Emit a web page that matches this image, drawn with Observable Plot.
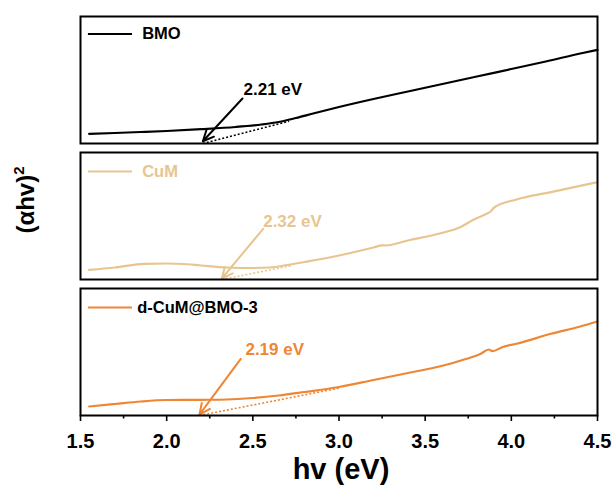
<!DOCTYPE html>
<html><head><meta charset="utf-8">
<script src="https://cdn.jsdelivr.net/npm/d3@7"></script>
<script src="https://cdn.jsdelivr.net/npm/@observablehq/plot@0.6"></script>
<style>body{margin:0;background:#fff;font-family:"Liberation Sans",Arial,sans-serif}</style>
</head><body><div id="chart"></div>
<script>
const samples = ["BMO", "CuM", "d-CuM@BMO-3"];
const colors = ["#000000", "#E8C590", "#EF8634"];

const bmoX = [1.55,1.7,1.85,2.0,2.2,2.4,2.55,2.65,2.75,2.85,3.0,3.2,3.4,3.6,3.8,4.0,4.2,4.4,4.5];
const bmoY = [9.7,10.5,11.5,12.5,14.3,16.5,19,21.5,25.5,30,36.5,44.5,52,59.5,67,74.5,82,90,93.7];

const cumX = [1.55,1.7,1.87,2.0,2.1,2.2,2.35,2.5,2.6,2.7,2.8,3.0,3.2,3.25,3.27,3.4,3.59,3.7,3.78,3.86,3.88,3.9,4.03,4.23,4.5];
const cumY = [9.7,12,15.7,16,15.5,14,12,11.5,12,14.5,17.5,24,32,34.2,34,39,46.3,52,59.7,66,68,72,80,87.3,97.3];

const dcumX = [1.55,1.7,1.85,2.0,2.2,2.35,2.5,2.65,2.8,3.0,3.2,3.4,3.55,3.65,3.74,3.82,3.87,3.89,3.95,4.03,4.23,4.4,4.5];
const dcumY = [9,11.5,14,15.5,15.7,16,17.5,20,23.5,28.5,35.5,42.5,47.7,52,56.7,61.5,66,64.3,68.5,71.7,81.7,89,94];

const gapValues = [2.21, 2.32, 2.19];
const gapLabels = ["2.21 eV", "2.32 eV", "2.19 eV"];
const tangentEndX = [2.71, 2.73, 3.01];
const tangentEndY = [22.3, 14, 27.7];
const arrowTailX = [2.44, 2.56, 2.43];
const arrowTailY = [45, 50.7, 56.7];
const arrowHeadY = [2.3, 1.0, 0.8];
const labelX = [2.446, 2.56, 2.457];
const labelY = [54.1, 58.4, 66.4];
const legendY = [109.5, 108, 108];
const legendTextX = [1.858, 1.858, 1.829];

const xTicks = [1.5, 2.0, 2.5, 3.0, 3.5, 4.0, 4.5];
const xMinorTicks = [1.75, 2.25, 2.75, 3.25, 3.75, 4.25];

const seriesX = [bmoX, cumX, dcumX];
const seriesY = [bmoY, cumY, dcumY];
const curves = samples.flatMap((s, i) => seriesX[i].map((x, j) => ({sample: s, x, y: seriesY[i][j]})));
const ann = samples.map((s, i) => ({
  sample: s, gap: gapValues[i], label: gapLabels[i],
  tx: tangentEndX[i], ty: tangentEndY[i],
  ax: arrowTailX[i], ay: arrowTailY[i], hy: arrowHeadY[i],
  lx: labelX[i], ly: labelY[i], legY: legendY[i], legX: legendTextX[i]
}));

const W = 614, H = 487;
const chart = Plot.plot({
  width: W, height: H,
  marginTop: 16, marginBottom: 72, marginLeft: 80, marginRight: 17,
  style: {fontFamily: "'Liberation Sans', Arial, sans-serif", color: "black", background: "white"},
  x: {domain: [1.5, 4.5]},
  y: {domain: [0, 127], axis: null},
  fy: {domain: samples, axis: null, paddingInner: 9 / 136, paddingOuter: 0},
  color: {domain: samples, range: colors},
  marks: [
    Plot.link(ann, {x1: "gap", y1: 0, x2: "tx", y2: "ty", fy: "sample", stroke: "sample", strokeWidth: 1.6, strokeDasharray: "2,2"}),
    Plot.line(curves, {x: "x", y: "y", fy: "sample", stroke: "sample", strokeWidth: 2.2, curve: "monotone-x"}),
    Plot.arrow(ann, {x1: "ax", y1: "ay", x2: "gap", y2: "hy", fy: "sample", stroke: "sample", strokeWidth: 2, headLength: 9, headAngle: 50}),
    Plot.text(ann, {x: "lx", y: "ly", text: "label", fy: "sample", fill: "sample", textAnchor: "start", fontSize: 17, fontWeight: "bold"}),
    Plot.ruleY(ann, {y: "legY", x1: 1.546, x2: 1.802, fy: "sample", stroke: "sample", strokeWidth: 2.2}),
    Plot.text(ann.filter(d => d.sample !== "CuM"), {x: "legX", y: "legY", text: "sample", fy: "sample", fill: "black", textAnchor: "start", fontSize: 16.5, fontWeight: "bold"}),
    Plot.text(ann.filter(d => d.sample === "CuM"), {x: "legX", y: "legY", text: "sample", fy: "sample", fill: "sample", textAnchor: "start", fontSize: 16.5, fontWeight: "bold"}),
    Plot.frame({strokeWidth: 2}),
    Plot.axisX({ticks: xTicks, tickFormat: d3.format(".1f"), tickSize: 6, tickPadding: 12, fontSize: 20, fontWeight: "bold", label: null, strokeWidth: 1.6}),
    Plot.axisX({ticks: xMinorTicks, tickFormat: () => "", tickSize: 3.5, label: null, strokeWidth: 1.6})
  ]
});
document.getElementById("chart").appendChild(chart);

const svg = d3.select(chart.tagName.toLowerCase() === "svg" ? chart : chart.querySelector("svg"));
svg.append("text")
  .attr("x", 341).attr("y", 479)
  .attr("text-anchor", "middle")
  .attr("font-size", 29).attr("font-weight", "bold").attr("fill", "black")
  .text("hv (eV)");
const yl = svg.append("text")
  .attr("transform", "translate(33.5,200) rotate(-90)")
  .attr("text-anchor", "middle")
  .attr("font-size", 24).attr("font-weight", "bold").attr("fill", "black");
yl.append("tspan").text("(αhv)");
yl.append("tspan").attr("dy", -10).attr("font-size", 15).text("2");
</script>
</body></html>
